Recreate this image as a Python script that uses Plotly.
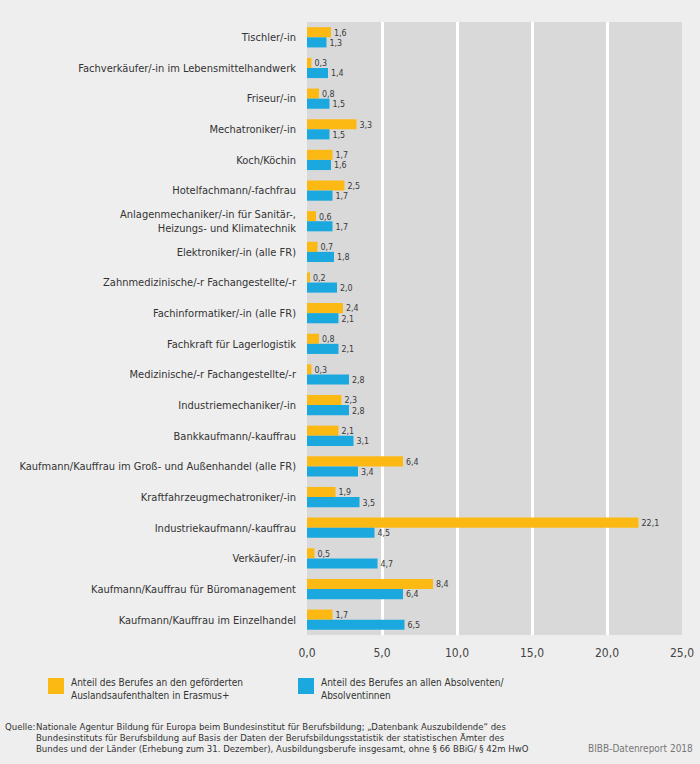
import plotly.graph_objects as go

categories = [
    "Tischler/-in",
    "Fachverkäufer/-in im Lebensmittelhandwerk",
    "Friseur/-in",
    "Mechatroniker/-in",
    "Koch/Köchin",
    "Hotelfachmann/-fachfrau",
    "Anlagenmechaniker/-in für Sanitär-,<br>Heizungs- und Klimatechnik",
    "Elektroniker/-in (alle FR)",
    "Zahnmedizinische/-r Fachangestellte/-r",
    "Fachinformatiker/-in (alle FR)",
    "Fachkraft für Lagerlogistik",
    "Medizinische/-r Fachangestellte/-r",
    "Industriemechaniker/-in",
    "Bankkaufmann/-kauffrau",
    "Kaufmann/Kauffrau im Groß- und Außenhandel (alle FR)",
    "Kraftfahrzeugmechatroniker/-in",
    "Industriekaufmann/-kauffrau",
    "Verkäufer/-in",
    "Kaufmann/Kauffrau für Büromanagement",
    "Kaufmann/Kauffrau im Einzelhandel",
]
erasmus = [1.6, 0.3, 0.8, 3.3, 1.7, 2.5, 0.6, 0.7, 0.2, 2.4, 0.8, 0.3, 2.3, 2.1, 6.4, 1.9, 22.1, 0.5, 8.4, 1.7]
absolventen = [1.3, 1.4, 1.5, 1.5, 1.6, 1.7, 1.7, 1.8, 2.0, 2.1, 2.1, 2.8, 2.8, 3.1, 3.4, 3.5, 4.5, 4.7, 6.4, 6.5]
series_names = [
    "Anteil des Berufes an den geförderten<br>Auslandsaufenthalten in Erasmus+",
    "Anteil des Berufes an allen Absolventen/<br>Absolventinnen",
]
x_ticks = [0, 5, 10, 15, 20, 25]

YELLOW = "#FDB913"
BLUE = "#1BA8DF"
FONT = "DejaVu Sans Condensed, sans-serif"

W, H = 700, 764
ML, MR, MT, MB = 307, 18, 22, 129
PW, PH = W - ML - MR, H - MT - MB


def px(x):
    return (x - ML) / PW


def py(y):
    return (H - MB - y) / PH


fig = go.Figure()
for vals, color, name in [(erasmus, YELLOW, series_names[0]), (absolventen, BLUE, series_names[1])]:
    fig.add_trace(go.Bar(
        y=categories, x=vals, orientation="h", name=name,
        marker=dict(color=color, line=dict(width=0)),
        texttemplate="%{x:.1f}", textposition="outside",
        textfont=dict(family=FONT, size=10.5, color="#3a3a3a"),
        cliponaxis=False, showlegend=False,
    ))

fig.update_layout(
    width=W, height=H,
    margin=dict(l=ML, r=MR, t=MT, b=MB),
    paper_bgcolor="#EEEEEE", plot_bgcolor="#D9D9D9",
    barmode="group", bargap=0.34, bargroupgap=0,
    separators=",.",
    font=dict(family=FONT, size=11, color="#333333"),
    xaxis=dict(
        range=[0, 25], tickvals=x_ticks, tickformat=".1f",
        showgrid=True, gridcolor="#FFFFFF", gridwidth=2.5,
        zeroline=False, showline=False, ticks="", automargin=False,
        tickfont=dict(family=FONT, size=12, color="#444444"),
        ticklabelstandoff=9,
    ),
    yaxis=dict(
        autorange="reversed", showgrid=False, zeroline=False, ticks="",
        automargin=False,
        tickfont=dict(family=FONT, size=11, color="#333333"),
        ticklabelstandoff=10,
    ),
)

# Legend (custom)
legend_items = [(48, YELLOW, series_names[0]), (298, BLUE, series_names[1])]
for x0, color, name in legend_items:
    fig.add_shape(type="rect", xref="paper", yref="paper",
                  x0=px(x0), x1=px(x0 + 16), y0=py(694), y1=py(678),
                  fillcolor=color, line=dict(width=0))
    fig.add_annotation(xref="paper", yref="paper", x=px(x0 + 21), y=py(688.5),
                       xanchor="left", yanchor="middle", align="left",
                       text=name, showarrow=False,
                       font=dict(family=FONT, size=10, color="#333333"))

source_lines = [
    "Nationale Agentur Bildung für Europa beim Bundesinstitut für Berufsbildung; „Datenbank Auszubildende“ des",
    "Bundesinstituts für Berufsbildung auf Basis der Daten der Berufsbildungsstatistik der statistischen Ämter des",
    "Bundes und der Länder (Erhebung zum 31. Dezember), Ausbildungsberufe insgesamt, ohne § 66 BBiG/ § 42m HwO",
]
fig.add_annotation(xref="paper", yref="paper", x=px(3), y=py(726),
                   xanchor="left", yanchor="middle", text="Quelle:", showarrow=False,
                   font=dict(family=FONT, size=9.5, color="#333333"))
for i, line in enumerate(source_lines):
    fig.add_annotation(xref="paper", yref="paper", x=px(34), y=py(726 + 11 * i),
                       xanchor="left", yanchor="middle", text=line, showarrow=False,
                       font=dict(family=FONT, size=9.5, color="#333333"))
fig.add_annotation(xref="paper", yref="paper", x=px(695), y=py(748),
                   xanchor="right", yanchor="middle", text="BIBB-Datenreport 2018",
                   showarrow=False, font=dict(family=FONT, size=10, color="#777777"))

fig.write_html(
    "out.html",
    config={"displayModeBar": False},
    post_script="document.body.style.margin='0';document.body.style.overflow='hidden';",
)
